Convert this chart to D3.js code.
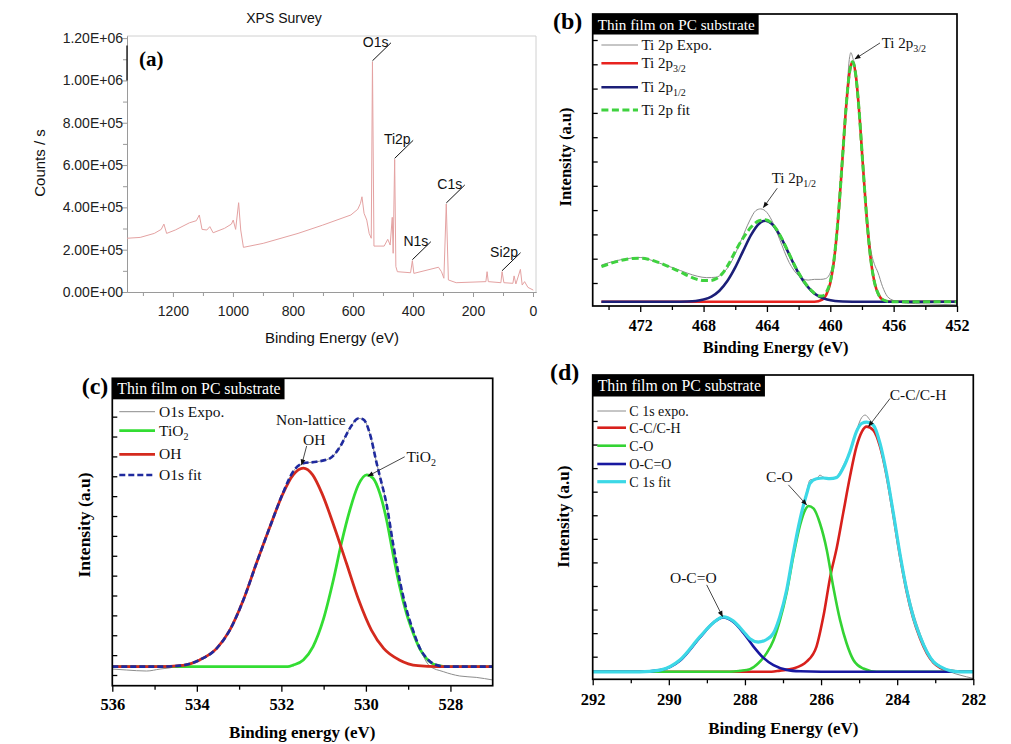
<!DOCTYPE html>
<html>
<head>
<meta charset="utf-8">
<script src="https://cdn.jsdelivr.net/npm/d3@7"></script>
<style>
  body { margin: 0; background: #fff; }
  svg { display: block; }
</style>
</head>
<body>
<svg id="fig" width="1011" height="744"></svg>
<script>
"use strict";

// ---------- (a) XPS survey ----------
const surveyEnergy = [1353,1309,1262,1239,1230,1221,1192,1145,1122,1112,1103,1087,1077,1066,1028,1005,999,991,981,974,
  965,899,783,701,607,584,575,570,563,554,546,539,535,530,496,484,476,469,466,461,457,452,408,402,397,315,305,297,289,282,
  256,157,153,149,107,103,97,67,63,57,42,36,28,17,-1];
// counts / s, in thousands
const surveyCounts = [254,258,277,296,321,277,293,327,337,364,296,293,309,280,301,321,340,296,422,293,
  211,230,277,316,364,391,419,450,372,340,277,254,1088,217,217,249,222,353,183,627,120,96,91,148,88,117,96,65,416,57,
  44,49,96,49,44,96,44,41,76,38,107,33,49,22,9];
const surveyPeakNames = ["O1s", "Ti2p", "N1s", "C1s", "Si2p"];
const surveyPeakEnergy = [535, 461, 402, 289, 103];
const surveyPeakCounts = [1088, 627, 148, 416, 96];
const surveyXTicks = [0, 200, 400, 600, 800, 1000, 1200];
const surveyXMinor = [100, 300, 500, 700, 900, 1100, 1300];
const surveyYTicks = [0, 2e5, 4e5, 6e5, 8e5, 1e6, 1.2e6];
const surveyYMinor = [1e5, 3e5, 5e5, 7e5, 9e5, 1.1e6];

// ---------- (b) Ti 2p ----------
const ti2pExpo = [[474.45,1.74],[473.5,1.92],[472.5,2.03],[472.0,2.05],[471.5,1.98],[470.5,1.75],[469.9,1.62],[469.0,1.40],
  [468.4,1.28],[467.8,1.22],[467.2,1.24],[466.8,1.40],[466.4,1.70],[466.0,2.20],[465.6,2.80],[465.1,3.55],[464.7,3.98],
  [464.4,4.05],[464.0,3.90],[463.6,3.45],[463.2,2.80],[462.6,1.85],[462.0,1.30],[461.4,1.12],[461.0,1.15],[460.6,1.15],
  [460.3,1.18],[460.05,1.35],[459.75,2.1],[459.5,3.75],[459.25,6.0],[459.0,8.3],[458.8,10.2],[458.7,10.48],[458.55,10.2],
  [458.45,10.0],[458.2,8.4],[457.95,6.1],[457.7,3.9],[457.45,2.4],[457.2,1.75],[457.0,1.45],[456.7,0.85],[456.4,0.45],
  [456.0,0.28],[455.2,0.17],[454.0,0.14],[452.0,0.10]];
const ti2p32 = [[474.45,0.23],[461,0.23],[460.5,0.32],[460.25,0.52],[460,1.0],[459.75,2.0],[459.5,3.68],[459.25,5.93],
  [459,8.25],[458.8,9.6],[458.6,10.1],[458.4,9.6],[458.2,8.25],[457.95,5.93],[457.7,3.68],[457.45,2.0],[457.2,1.0],
  [456.95,0.52],[456.7,0.32],[456.2,0.23],[452,0.23]];
const ti2p12 = [[474.45,0.23],[470,0.23],[469,0.24],[468.5,0.26],[468,0.32],[467.5,0.44],[467,0.68],[466.5,1.08],
  [466,1.64],[465.5,2.32],[465,2.98],[464.5,3.44],[464.1,3.56],[463.7,3.44],[463.2,2.98],[462.7,2.32],[462.2,1.64],
  [461.7,1.08],[461.2,0.68],[460.7,0.44],[460.2,0.32],[459.7,0.26],[459.2,0.24],[458,0.23],[452,0.23]];
const ti2pFit = [[474.45,1.67],[474,1.78],[473.5,1.88],[473,1.96],[472.5,2.01],[472,2.02],[471.5,1.98],[471,1.88],
  [470.5,1.76],[470,1.62],[469.5,1.47],[469,1.30],[468.5,1.17],[468,1.10],[467.6,1.10],[467.2,1.18],[466.8,1.40],
  [466.4,1.80],[466,2.30],[465.5,2.85],[465,3.30],[464.5,3.56],[464.1,3.60],[463.7,3.46],[463.2,3.0],[462.7,2.34],
  [462.2,1.66],[461.7,1.10],[461.2,0.70],[460.7,0.47],[460.5,0.47],[460.25,0.62],[460,1.06],[459.75,2.04],[459.5,3.70],
  [459.25,5.95],[459,8.26],[458.8,9.6],[458.6,10.1],[458.4,9.6],[458.2,8.25],[457.95,5.93],[457.7,3.68],[457.45,2.0],
  [457.2,1.0],[456.95,0.52],[456.7,0.32],[456.2,0.23],[452,0.23]];
const ti2pXTicks = [472, 468, 464, 460, 456, 452];
const ti2pXMinor = [474, 470, 466, 462, 458, 454];
const ti2pYTicks = [1,2,3,4,5,6,7,8,9,10,11];

// ---------- (c) O 1s ----------
const o1sFit = [[536,1.42],[534.87,1.42],[534.40,1.47],[533.93,1.76],[533.53,2.34],[533.22,3.26],[532.90,4.77],
  [532.59,6.62],[532.27,8.46],[531.96,10.17],[531.72,11.24],[531.48,11.65],[531.17,11.73],[530.85,11.90],[530.61,12.49],
  [530.38,13.41],[530.18,13.91],[530.06,13.86],[529.90,13.10],[529.75,11.70],[529.67,11.0],[529.51,9.58],[529.36,7.65],
  [529.20,5.77],[529.04,4.30],[528.88,3.22],[528.73,2.38],[528.57,1.86],[528.33,1.50],[528.1,1.42],[527,1.42]];
const o1sExpo = [[536,1.30],[535.66,1.25],[535.19,1.20],[534.87,1.30],[534.64,1.36],[534.40,1.47],[533.93,1.76],
  [533.53,2.34],[533.22,3.26],[532.90,4.77],[532.59,6.62],[532.27,8.46],[531.96,10.17],[531.72,11.24],[531.48,11.65],
  [531.17,11.73],[530.85,11.90],[530.61,12.49],[530.38,13.41],[530.18,13.91],[530.06,13.86],[529.90,13.10],[529.75,11.70],
  [529.67,11.0],[529.51,9.58],[529.36,7.65],[529.20,5.77],[529.04,4.30],[528.88,3.22],[528.73,2.38],[528.49,1.45],
  [528.17,1.17],[527.78,0.95],[527.39,0.88],[527.0,0.75]];
const o1sTiO2 = [[536,1.42],[531.85,1.42],[531.72,1.50],[531.48,1.76],[531.25,2.43],[531.01,3.77],[530.77,5.78],
  [530.58,7.63],[530.38,9.30],[530.18,10.56],[529.98,11.07],[529.83,10.90],[529.67,10.14],[529.51,8.80],[529.36,7.12],
  [529.20,5.44],[529.04,4.10],[528.88,3.10],[528.73,2.34],[528.57,1.84],[528.33,1.50],[528.02,1.42],[527,1.42]];
const o1sOH = [[536,1.42],[534.87,1.42],[534.40,1.47],[533.93,1.76],[533.53,2.34],[533.22,3.26],[532.90,4.77],
  [532.59,6.62],[532.27,8.46],[531.96,10.14],[531.72,11.07],[531.48,11.41],[531.26,11.07],[531.04,10.14],[530.75,8.46],
  [530.46,6.62],[530.17,4.77],[529.87,3.26],[529.58,2.34],[529.21,1.76],[528.77,1.47],[528.3,1.42],[527,1.42]];
const o1sXTicks = [536, 534, 532, 530, 528];
const o1sXMinor = [535, 533, 531, 529];
const o1sYTicks = [1,2,3,4,5,6,7,8,9,10,11,12,13,14];

// ---------- (d) C 1s ----------
const c1sExpo = [[292,0.38],[291.5,0.40],[291,0.37],[290.76,0.36],[290.23,0.43],[289.71,0.86],[289.18,1.85],[288.83,2.44],
  [288.57,2.72],[288.31,2.50],[288.04,2.05],[287.87,1.76],[287.65,1.65],[287.43,1.75],[287.25,2.00],[287.08,2.72],
  [286.90,3.86],[286.73,5.40],[286.55,6.85],[286.38,8.0],[286.29,8.5],[286.12,8.55],[286.03,8.70],[285.94,8.62],
  [285.77,8.55],[285.59,8.65],[285.42,9.1],[285.24,9.75],[285.07,10.6],[284.93,11.15],[284.84,11.25],[284.72,11.05],
  [284.63,10.85],[284.45,10.1],[284.28,8.85],[284.10,7.2],[283.93,5.5],[283.75,4.0],[283.58,2.9],[283.40,2.0],
  [283.22,1.29],[283.05,0.85],[282.87,0.62],[282.61,0.36],[282.35,0.22],[282,0.08]];
const c1sCC = [[292,0.36],[287.3,0.36],[287.08,0.41],[286.73,0.50],[286.38,0.79],[286.12,1.43],[285.94,2.70],[285.75,4.47],
  [285.59,5.60],[285.42,7.08],[285.24,8.64],[285.07,9.91],[284.93,10.54],[284.80,10.76],[284.63,10.61],[284.45,9.91],
  [284.28,8.71],[284.10,7.01],[283.93,5.31],[283.75,3.76],[283.58,2.63],[283.40,1.78],[283.22,1.14],[283.05,0.75],
  [282.87,0.53],[282.61,0.41],[282.35,0.36],[282,0.36]];
const c1sCO = [[292,0.36],[288.4,0.36],[288.13,0.40],[287.87,0.47],[287.65,0.72],[287.43,1.15],[287.25,1.70],[287.08,2.55],
  [286.90,3.75],[286.73,5.25],[286.55,6.59],[286.42,7.22],[286.33,7.39],[286.20,7.29],[286.03,6.66],[285.85,5.53],
  [285.68,3.97],[285.50,2.55],[285.33,1.57],[285.15,0.86],[284.89,0.50],[284.54,0.36],[282,0.36]];
const c1sOCO = [[292,0.36],[290.76,0.36],[290.23,0.43],[289.71,0.83],[289.18,1.82],[288.83,2.44],[288.57,2.67],
  [288.31,2.48],[288.04,2.01],[287.78,1.44],[287.52,0.96],[287.25,0.64],[286.90,0.44],[286.55,0.38],[286.0,0.36],[282,0.36]];
const c1sFit = [[292,0.36],[290.76,0.36],[290.23,0.43],[289.71,0.86],[289.18,1.85],[288.83,2.44],[288.57,2.69],
  [288.31,2.52],[288.04,2.07],[287.87,1.76],[287.65,1.62],[287.43,1.73],[287.25,2.00],[287.08,2.72],[286.90,3.86],
  [286.73,5.40],[286.55,6.85],[286.38,7.90],[286.29,8.35],[286.12,8.55],[285.94,8.58],[285.77,8.55],[285.59,8.60],
  [285.42,9.0],[285.24,9.7],[285.07,10.55],[284.93,10.90],[284.80,10.95],[284.63,10.83],[284.45,10.05],[284.28,8.78],
  [284.10,7.08],[283.93,5.39],[283.75,3.83],[283.58,2.70],[283.40,1.86],[283.22,1.21],[283.05,0.79],[282.87,0.58],
  [282.61,0.41],[282.35,0.36],[282,0.36]];
const c1sXTicks = [292, 290, 288, 286, 284, 282];
const c1sXMinor = [291, 289, 287, 285, 283];
const c1sYTicks = [1,2,3,4,5,6,7,8,9,10,11];

// ---------- drawing ----------
const SERIF = "Liberation Serif, Times New Roman, serif";
const SANS = "Liberation Sans, Arial, sans-serif";
const svg = d3.select("#fig");

svg.append("defs").append("marker")
  .attr("id", "arrow").attr("viewBox", "0 0 10 10").attr("refX", 9).attr("refY", 5)
  .attr("markerUnits", "userSpaceOnUse").attr("markerWidth", 7).attr("markerHeight", 6)
  .attr("orient", "auto")
  .append("path").attr("d", "M0,1L10,5L0,9z").attr("fill", "#111");

// --- panel (a) ---
(function () {
  const g = svg.append("g").attr("font-family", SANS);
  const x = d3.scaleLinear().domain([1353, -10]).range([127, 536]);
  const y = d3.scaleLinear().domain([0, 1.21e6]).range([292, 36]);
  const [x0, x1] = x.range(), [y0, y1] = y.range();

  function sci(v) {
    if (v === 0) return "0.00E+00";
    const e = Math.floor(Math.log10(v) + 1e-9);
    return (v / Math.pow(10, e)).toFixed(2) + "E+" + String(e).padStart(2, "0");
  }

  g.append("line").attr("x1", x0).attr("x2", x1).attr("y1", y1).attr("y2", y1).attr("stroke", "#d0d0d0");
  g.append("line").attr("x1", x1).attr("x2", x1).attr("y1", y1).attr("y2", y0).attr("stroke", "#d0d0d0");

  const axes = [
    d3.axisBottom(x).tickValues(surveyXMinor).tickSize(4).tickFormat(""),
    d3.axisBottom(x).tickValues(surveyXTicks).tickSize(5).tickPadding(9).tickFormat(d3.format("d")),
  ];
  axes.forEach(a => g.append("g").attr("transform", `translate(0,${y0})`).call(a.tickSizeOuter(0)));
  g.append("g").attr("transform", `translate(${x0},0)`)
    .call(d3.axisLeft(y).tickValues(surveyYMinor).tickSize(4).tickSizeOuter(0).tickFormat(""));
  g.append("g").attr("transform", `translate(${x0},0)`)
    .call(d3.axisLeft(y).tickValues(surveyYTicks).tickSize(5).tickSizeOuter(0).tickPadding(-1).tickFormat(sci));
  g.selectAll("g").attr("font-family", SANS).attr("font-size", 14);
  g.selectAll(".domain").attr("stroke", "#9a9a9a");
  g.selectAll(".tick line").attr("stroke", "#9a9a9a");
  g.selectAll(".tick text").attr("fill", "#222");

  // dark segment on the axis seen in the original
  g.append("line").attr("x1", x0).attr("x2", x0).attr("y1", y(1.165e6)).attr("y2", y(1.0e6))
    .attr("stroke", "#222").attr("stroke-width", 1.4);

  const pts = surveyEnergy.map((e, i) => [e, surveyCounts[i] * 1000]);
  g.append("path").datum(pts)
    .attr("d", d3.line().x(d => x(d[0])).y(d => y(d[1])))
    .attr("fill", "none").attr("stroke", "#e4a2a2").attr("stroke-width", 1);

  surveyPeakNames.forEach((name, i) => {
    const px = x(surveyPeakEnergy[i]), py = y(surveyPeakCounts[i] * 1000) - 1;
    g.append("line").attr("x1", px).attr("y1", py).attr("x2", px + 18.5).attr("y2", py - 18)
      .attr("stroke", "#111").attr("stroke-width", 1);
    g.append("text").attr("x", px + 16).attr("y", py - 14).attr("text-anchor", "end")
      .attr("font-size", 14).attr("fill", "#111").text(name);
  });

  g.append("text").attr("x", 284).attr("y", 23).attr("text-anchor", "middle")
    .attr("font-size", 14).attr("fill", "#111").text("XPS Survey");
  g.append("text").attr("x", 332).attr("y", 343).attr("text-anchor", "middle")
    .attr("font-size", 15).attr("fill", "#111").text("Binding Energy (eV)");
  g.append("text").attr("transform", "translate(45,163) rotate(-90)").attr("text-anchor", "middle")
    .attr("font-size", 15).attr("fill", "#111").text("Counts / s");
  g.append("text").attr("x", 139).attr("y", 66).attr("font-family", SERIF).attr("font-weight", "bold")
    .attr("font-size", 21).text("(a)");
})();

// --- panels (b)-(d) ---
function addLabel(sel, main, sub, subSize) {
  sel.text(main);
  if (sub) sel.append("tspan").attr("font-size", subSize).attr("dy", 4).text(sub);
  return sel;
}

function spectrumPanel(p) {
  const g = svg.append("g").attr("font-family", SERIF);
  const x = d3.scaleLinear().domain(p.xDomain).range(p.xRange);
  const y = d3.scaleLinear().domain(p.yDomain).range(p.yRange);
  const [x0, x1] = p.xRange, [y0, y1] = p.yRange;

  g.append("clipPath").attr("id", "clip-" + p.id).append("rect")
    .attr("x", x0).attr("y", y1).attr("width", x1 - x0).attr("height", y0 - y1);

  g.append("g").attr("transform", `translate(0,${y0})`)
    .call(d3.axisBottom(x).tickValues(p.xMinor).tickSize(4).tickSizeOuter(0).tickFormat(""));
  g.append("g").attr("transform", `translate(0,${y0})`)
    .call(d3.axisBottom(x).tickValues(p.xTicks).tickSize(6).tickSizeOuter(0)
      .tickPadding(p.tickPad).tickFormat(d3.format("d")));
  g.append("g").attr("transform", `translate(${x0},0)`)
    .call(d3.axisRight(y).tickValues(p.yTicks).tickSize(5).tickSizeOuter(0).tickFormat(""));
  g.selectAll("g").attr("font-family", SERIF).attr("font-size", p.tickFont).attr("font-weight", "bold");
  g.selectAll(".domain").remove();
  g.selectAll(".tick line").attr("stroke", "#000").attr("stroke-width", 1.3);
  g.selectAll(".tick text").attr("fill", "#000");

  const line = d3.line().x(d => x(d[0])).y(d => y(d[1])).curve(d3.curveMonotoneX);
  const plot = g.append("g").attr("clip-path", `url(#clip-${p.id})`);
  p.series.slice().sort((a, b) => a.z - b.z).forEach(s => {
    plot.append("path").datum(s.data).attr("d", line)
      .attr("fill", "none").attr("stroke", s.color).attr("stroke-width", s.width)
      .attr("stroke-dasharray", s.dash || null).attr("stroke-linejoin", "round");
  });

  g.append("rect").attr("x", x0).attr("y", y1).attr("width", x1 - x0).attr("height", y0 - y1)
    .attr("fill", "none").attr("stroke", "#000").attr("stroke-width", 1.7);

  // title box
  const tb = g.append("g");
  const tt = tb.append("text").attr("x", x0 + 5).attr("y", y1 + 16).attr("fill", "#fff")
    .attr("font-size", p.boxFont).text("Thin film on PC substrate");
  const bw = tt.node().getComputedTextLength() + 9;
  tb.insert("rect", "text").attr("x", x0).attr("y", y1).attr("width", bw).attr("height", p.boxH).attr("fill", "#000");

  // legend
  p.series.forEach((s, i) => {
    const ly = y1 + p.legendY[i];
    g.append("line").attr("x1", x0 + p.legendX[0]).attr("x2", x0 + p.legendX[1])
      .attr("y1", ly).attr("y2", ly).attr("stroke", s.color).attr("stroke-width", s.width)
      .attr("stroke-dasharray", s.dash || null);
    addLabel(g.append("text").attr("x", x0 + p.legendX[2]).attr("y", ly + 5)
      .attr("font-size", p.legendFont).attr("fill", "#111"), s.name, s.sub, 10);
  });

  // peak annotations
  p.notes.forEach(n => {
    const tx = x(n.tip[0]), ty = y(n.tip[1]);
    if (n.tail) {
      g.append("line").attr("x1", tx + n.tail[0]).attr("y1", ty + n.tail[1])
        .attr("x2", tx).attr("y2", ty).attr("stroke", "#333").attr("stroke-width", 0.9)
        .attr("marker-end", "url(#arrow)");
    }
    addLabel(g.append("text").attr("x", tx + n.at[0]).attr("y", ty + n.at[1])
      .attr("text-anchor", n.anchor || "start").attr("font-size", p.noteFont).attr("fill", "#111"),
      n.text, n.sub, 10);
  });

  g.append("text").attr("x", p.xTitle[0]).attr("y", p.xTitle[1]).attr("text-anchor", "middle")
    .attr("font-weight", "bold").attr("font-size", p.titleFont).text(p.xLabel);
  g.append("text").attr("transform", `translate(${p.yTitle[0]},${p.yTitle[1]}) rotate(-90)`)
    .attr("text-anchor", "middle").attr("font-weight", "bold").attr("font-size", p.yTitleFont)
    .text("Intensity (a.u)");
  g.append("text").attr("x", p.letter[0]).attr("y", p.letter[1]).attr("font-weight", "bold")
    .attr("font-size", 24).text(p.letter[2]);
}

const GRAY = "#8c8c8c";

spectrumPanel({
  id: "b", xDomain: [475, 452], xRange: [592.7, 957], yDomain: [0.0535, 12.07], yRange: [306, 14],
  xTicks: ti2pXTicks, xMinor: ti2pXMinor, yTicks: ti2pYTicks, tickPad: 7.5, tickFont: 16,
  series: [
    { name: "Ti 2p Expo.", data: ti2pExpo, color: GRAY, width: 1, z: 0 },
    { name: "Ti 2p", sub: "3/2", data: ti2p32, color: "#e8231f", width: 2.6, z: 1 },
    { name: "Ti 2p", sub: "1/2", data: ti2p12, color: "#1c1f78", width: 2.6, z: 2 },
    { name: "Ti 2p fit", data: ti2pFit, color: "#3fd23f", width: 3, dash: "7,3.5", z: 3 },
  ],
  legendX: [8.7, 45.3, 48.7], legendY: [31, 49.3, 73.3, 96], legendFont: 15,
  boxFont: 15.2, boxH: 20.5, noteFont: 15,
  notes: [
    { text: "Ti 2p", sub: "3/2", tip: [458.44, 10.22], tail: [25, -16], at: [26.7, -10.7] },
    { text: "Ti 2p", sub: "1/2", tip: [464.22, 4.11], tail: [13.8, -19.2], at: [8.2, -24.2] },
  ],
  xLabel: "Binding Energy (eV)", xTitle: [775.7, 352.5], titleFont: 16.5,
  yTitle: [570.5, 157], yTitleFont: 16.5, letter: [553, 29, "(b)"],
});

spectrumPanel({
  id: "c", xDomain: [536, 527], xRange: [112.3, 492.7], yDomain: [0.4615, 15.93], yRange: [685.7, 378.3],
  xTicks: o1sXTicks, xMinor: o1sXMinor, yTicks: o1sYTicks, tickPad: 7, tickFont: 16.5,
  series: [
    { name: "O1s Expo.", data: o1sExpo, color: GRAY, width: 1, z: 0 },
    { name: "TiO", sub: "2", data: o1sTiO2, color: "#33dd33", width: 2.8, z: 1 },
    { name: "OH", data: o1sOH, color: "#d42a1e", width: 2.8, z: 2 },
    { name: "O1s fit", data: o1sFit, color: "#1f2a9e", width: 2.6, dash: "6,3", z: 3 },
  ],
  legendX: [7, 42.7, 46.7], legendY: [33.4, 52.4, 76, 96.7], legendFont: 15.5,
  boxFont: 15.8, boxH: 21, noteFont: 15.5,
  notes: [
    { text: "Non-lattice", tip: [531.52, 11.57], at: [9.2, -40], anchor: "middle" },
    { text: "OH", tip: [531.52, 11.57], tail: [5, -19], at: [12.5, -20], anchor: "middle" },
    { text: "TiO", sub: "2", tip: [529.95, 11.01], tail: [36.7, -19.3], at: [38.5, -14.5] },
  ],
  xLabel: "Binding energy (eV)", xTitle: [302.3, 737.5], titleFont: 17,
  yTitle: [89.5, 525], yTitleFont: 17.5, letter: [81.7, 394, "(c)"],
});

spectrumPanel({
  id: "d", xDomain: [292, 282], xRange: [592.7, 973.3], yDomain: [0.041, 12.95], yRange: [679.3, 375],
  xTicks: c1sXTicks, xMinor: c1sXMinor, yTicks: c1sYTicks, tickPad: 8, tickFont: 16.5,
  series: [
    { name: "C 1s expo.", data: c1sExpo, color: GRAY, width: 1, z: 0 },
    { name: "C-C/C-H", data: c1sCC, color: "#d8201c", width: 2.6, z: 1 },
    { name: "C-O", data: c1sCO, color: "#34d334", width: 2.6, z: 2 },
    { name: "O-C=O", data: c1sOCO, color: "#1818a0", width: 2.6, z: 3 },
    { name: "C 1s fit", data: c1sFit, color: "#3cd8e6", width: 3.2, z: 4 },
  ],
  legendX: [4.6, 33.3, 36.6], legendY: [36, 52.7, 70.7, 89, 106.7], legendFont: 14,
  boxFont: 15.8, boxH: 21.5, noteFont: 15.5,
  notes: [
    { text: "C-C/C-H", tip: [284.75, 10.77], tail: [21.5, -28], at: [21, -26.5] },
    { text: "C-O", tip: [286.38, 7.44], tail: [-18.2, -20], at: [-40.5, -23.3] },
    { text: "O-C=O", tip: [288.59, 2.71], tail: [-15.8, -31.5], at: [-52.5, -33.5] },
  ],
  xLabel: "Binding Energy (eV)", xTitle: [783.3, 733.5], titleFont: 17,
  yTitle: [569, 516.7], yTitleFont: 17, letter: [550, 380, "(d)"],
});
</script>
</body>
</html>
